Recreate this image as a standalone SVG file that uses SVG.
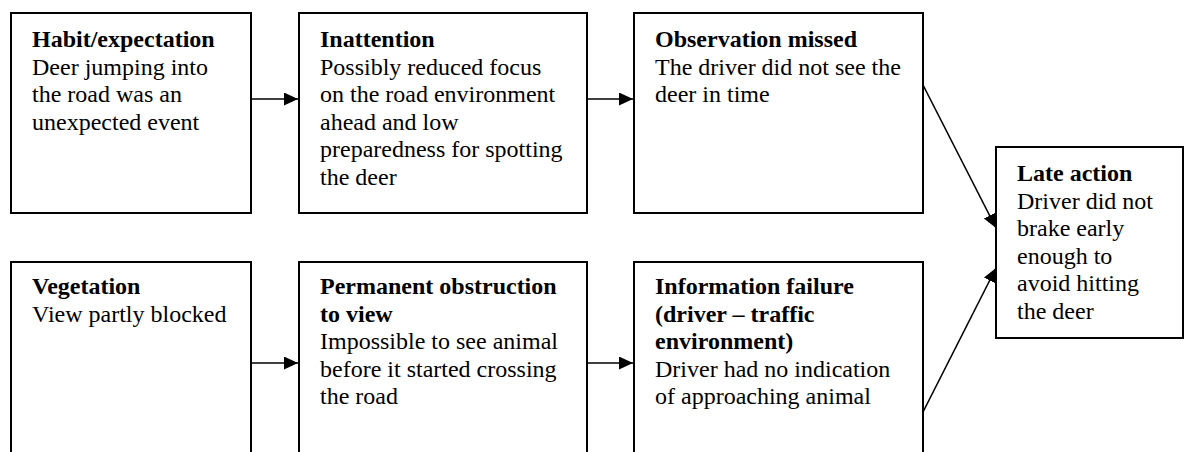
<svg xmlns="http://www.w3.org/2000/svg" width="1186" height="452" viewBox="0 0 1186 452">
<style>
.box{fill:#fff;stroke:#000;stroke-width:2}
.t{font-family:"Liberation Serif","Times New Roman",serif;font-size:24px;fill:#000}
.b{font-weight:bold}
.c{fill:none;stroke:#000;stroke-width:1.6}
</style>
<defs>
<marker id="ah" markerUnits="userSpaceOnUse" markerWidth="16" markerHeight="14" refX="14" refY="6.5" orient="auto">
<path d="M0,0 L14,6.5 L0,13 z" fill="#000"/>
</marker>
</defs>
<rect width="1186" height="452" fill="#fff"/>
<g id="connectors">
<path class="c" d="M251,99 L298,99" marker-end="url(#ah)"/>
<path class="c" d="M587,99 L633,99" marker-end="url(#ah)"/>
<path class="c" d="M251,363 L298,363" marker-end="url(#ah)"/>
<path class="c" d="M587,363 L633,363" marker-end="url(#ah)"/>
<path class="c" d="M923,85 L996,228" marker-end="url(#ah)"/>
<path class="c" d="M923,412 L996,268" marker-end="url(#ah)"/>
</g>
<g id="habit">
<rect class="box" x="11" y="13" width="240" height="200"/>
<text class="t"><tspan class="b" x="32" y="47">Habit/expectation</tspan><tspan x="32" y="74.6">Deer jumping into</tspan><tspan x="32" y="102.2">the road was an</tspan><tspan x="32" y="129.8">unexpected event</tspan></text>
</g>
<g id="inattention">
<rect class="box" x="299" y="13" width="288" height="200"/>
<text class="t"><tspan class="b" x="320" y="47">Inattention</tspan><tspan x="320" y="74.6">Possibly reduced focus</tspan><tspan x="320" y="102.2">on the road environment</tspan><tspan x="320" y="129.8">ahead and low</tspan><tspan x="320" y="157.4">preparedness for spotting</tspan><tspan x="320" y="185">the deer</tspan></text>
</g>
<g id="observation">
<rect class="box" x="634" y="13" width="289" height="200"/>
<text class="t"><tspan class="b" x="655" y="47">Observation missed</tspan><tspan x="655" y="74.6">The driver did not see the</tspan><tspan x="655" y="102.2">deer in time</tspan></text>
</g>
<g id="vegetation">
<rect class="box" x="11" y="262" width="240" height="240"/>
<text class="t"><tspan class="b" x="32" y="294">Vegetation</tspan><tspan x="32" y="321.6">View partly blocked</tspan></text>
</g>
<g id="obstruction">
<rect class="box" x="299" y="262" width="288" height="240"/>
<text class="t"><tspan class="b" x="320" y="294">Permanent obstruction</tspan><tspan class="b" x="320" y="321.6">to view</tspan><tspan x="320" y="349.2">Impossible to see animal</tspan><tspan x="320" y="376.8">before it started crossing</tspan><tspan x="320" y="404.4">the road</tspan></text>
</g>
<g id="information">
<rect class="box" x="634" y="262" width="289" height="240"/>
<text class="t"><tspan class="b" x="655" y="294">Information failure</tspan><tspan class="b" x="655" y="321.6">(driver – traffic</tspan><tspan class="b" x="655" y="349.2">environment)</tspan><tspan x="655" y="376.8">Driver had no indication</tspan><tspan x="655" y="404.4">of approaching animal</tspan></text>
</g>
<g id="late">
<rect class="box" x="996" y="147" width="187" height="191"/>
<text class="t"><tspan class="b" x="1017" y="181">Late action</tspan><tspan x="1017" y="208.6">Driver did not</tspan><tspan x="1017" y="236.2">brake early</tspan><tspan x="1017" y="263.8">enough to</tspan><tspan x="1017" y="291.4">avoid hitting</tspan><tspan x="1017" y="319">the deer</tspan></text>
</g>
</svg>
